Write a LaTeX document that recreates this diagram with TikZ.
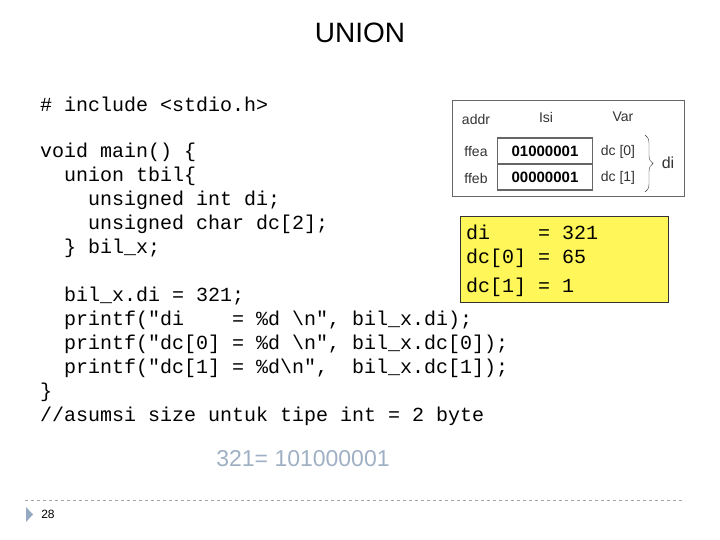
\documentclass[tikz,border=0pt]{standalone}
\usepackage{fontspec}
\setmainfont{Liberation Sans}
\setmonofont{Liberation Mono}
\usetikzlibrary{decorations.pathreplacing}
\begin{document}
\begin{tikzpicture}[x=1pt,y=-1pt,
  code/.style={anchor=west,inner sep=0pt,font=\ttfamily\fontsize{20}{20}\selectfont},
  sm/.style={inner sep=0pt,font=\fontsize{14}{14}\selectfont,text=black!80},
  cell/.style={draw=black!60,line width=1.2pt,minimum width=95pt,minimum height=26pt,inner sep=0pt,font=\bfseries\fontsize{15}{15}\selectfont}]
\useasboundingbox (0,0) rectangle (720,540);
\node[font=\fontsize{28}{28}\selectfont] (title) at (360,33) {UNION};
\foreach \t/\x/\y [count=\i] in {
 {\# include <stdio.h>}/40/104,
 {void main() \{}/40/152,
 {union tbil\{}/64/176,
 {unsigned int di;}/88/200,
 {unsigned char dc[2];}/88/224,
 {\} bil\_x;}/64/248,
 {bil\_x.di = 321;}/64/296,
 {printf("di~~~~= \%d \textbackslash n", bil\_x.di);}/64/320,
 {printf("dc[0] = \%d \textbackslash n", bil\_x.dc[0]);}/64/344,
 {printf("dc[1] = \%d\textbackslash n",~~bil\_x.dc[1]);}/64/368,
 {\}}/40/392,
 {//asumsi size untuk tipe int = 2 byte}/40/416}
 \node[code] (c\i) at (\x,\y) {\t};
% memory diagram
\node[draw=black!60,line width=1pt,minimum width=232pt,minimum height=96pt,inner sep=0pt] (mem) at (568,149) {};
\node[sm] (addr) at (476,119) {addr};
\node[sm] (isi) at (546,117) {Isi};
\node[sm] (var) at (623,117) {Var};
\node[cell] (c0) at (545,151) {01000001};
\node[cell] (c1) at (545,177) {00000001};
\node[sm] (a0) at (476,152) {ffea};
\node[sm] (a1) at (476,178) {ffeb};
\node[sm] (v0) at (618,152) {dc [0]};
\node[sm] (v1) at (618,178) {dc [1]};
\draw[black!80,decorate,decoration={brace,amplitude=8pt}] (645,135) -- (645,192);
\node[sm,font=\fontsize{16}{16}\selectfont] (vdi) at (668,163) {di};
% yellow box
\node[draw=black!80,fill=yellow!65,minimum width=208pt,minimum height=86pt,inner sep=0pt] (yb) at (564,259) {};
\node[code] (y1) at (466,232) {di~~~~= 321};
\node[code] (y2) at (466,258) {dc[0] = 65};
\node[code] (y3) at (466,287) {dc[1] = 1};
\node[font=\fontsize{23}{23}\selectfont,text={rgb,255:red,160;green,176;blue,196}] (bin) at (303,459) {321= 101000001};
\draw[dashed,black!35] (25,500) coordinate (l0) -- (685,500) coordinate (l1);
\fill[fill={rgb,255:red,150;green,170;blue,196}] (26,507) -- (33,514.5) -- (26,522) -- cycle;
\node[font=\fontsize{12}{12}\selectfont,inner sep=0pt] (pg) at (48,514) {28};
\end{tikzpicture}
\end{document}
